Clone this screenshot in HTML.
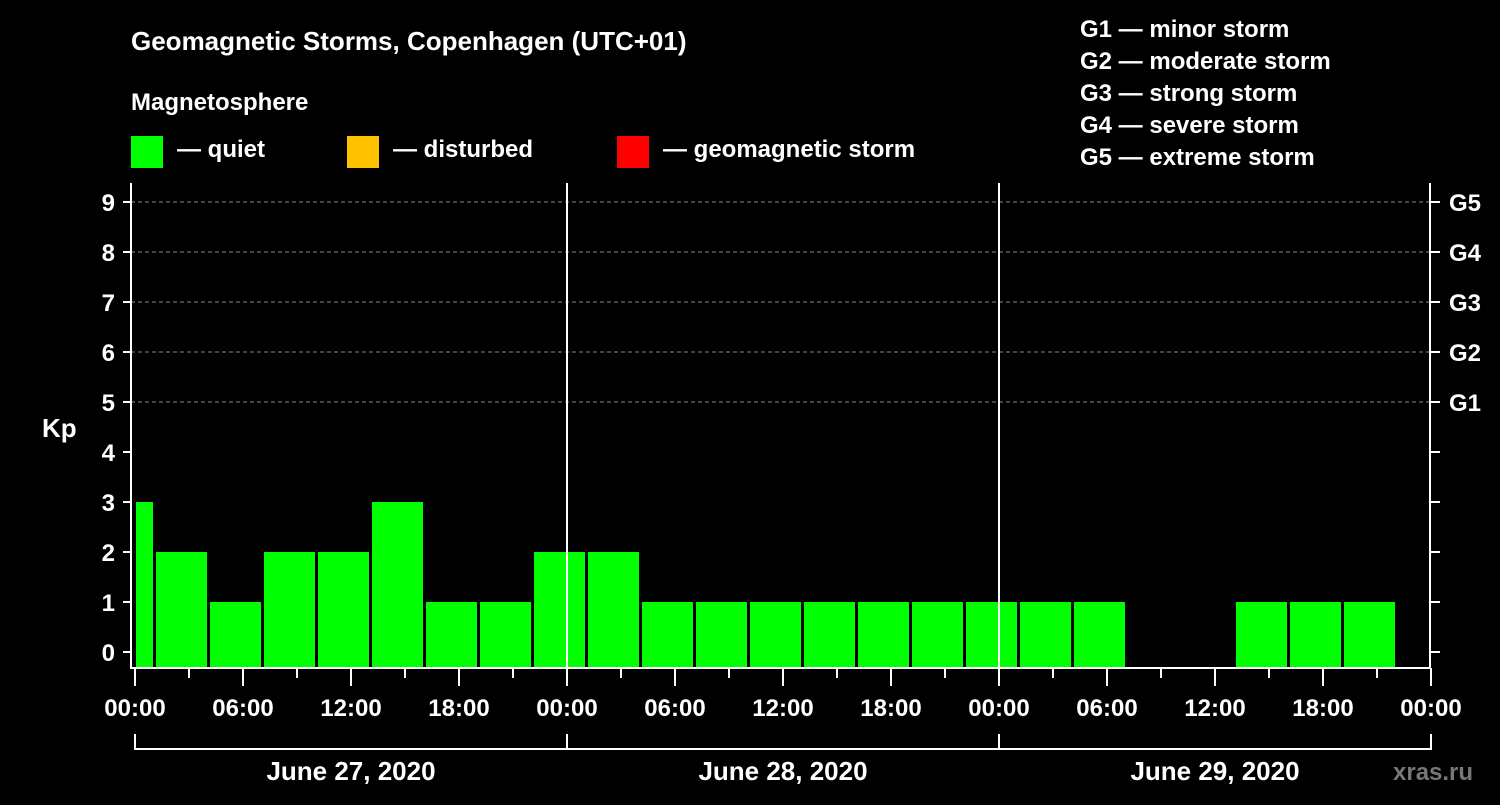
<!DOCTYPE html>
<html><head><meta charset="utf-8"><style>
html,body{margin:0;padding:0;background:#000;}
svg text{font-family:"Liberation Sans",Arial,sans-serif;font-weight:bold;fill:#fff;}
</style></head><body>
<svg id="chart" width="1500" height="800" viewBox="0 0 1500 800" xmlns="http://www.w3.org/2000/svg">
<rect width="1500" height="800" fill="#000"/>
<text x="131" y="50" font-size="26">Geomagnetic Storms, Copenhagen (UTC+01)</text>
<text x="131" y="110" font-size="24">Magnetosphere</text>
<g><rect x="131" y="136" width="32" height="32" fill="#00ff00"/><text x="177" y="157" font-size="24">— quiet</text></g>
<g><rect x="347" y="136" width="32" height="32" fill="#ffc000"/><text x="393" y="157" font-size="24">— disturbed</text></g>
<g><rect x="617" y="136" width="32" height="32" fill="#ff0000"/><text x="663" y="157" font-size="24">— geomagnetic storm</text></g>
<g font-size="24">
<text x="1080" y="37">G1 — minor storm</text>
<text x="1080" y="69">G2 — moderate storm</text>
<text x="1080" y="101">G3 — strong storm</text>
<text x="1080" y="133">G4 — severe storm</text>
<text x="1080" y="165">G5 — extreme storm</text>
</g>
<text x="42" y="437" font-size="26">Kp</text>
<text x="1393" y="780" font-size="24" fill="#777" style="fill:#777">xras.ru</text>
<g id="plot"></g>
</svg>
<script>
const kpValues=[3,2,1,2,2,3,1,1,2,2,1,1,1,1,1,1,1,1,1,null,null,1,1,1];
const yTicks=[0,1,2,3,4,5,6,7,8,9];
const gLabels=["G1","G2","G3","G4","G5"];
const xTickLabels=["00:00","06:00","12:00","18:00","00:00","06:00","12:00","18:00","00:00","06:00","12:00","18:00","00:00"];
const dayLabels=["June 27, 2020","June 28, 2020","June 29, 2020"];
const NS="http://www.w3.org/2000/svg";
const X0=135,PXH=18,LEFT=131,RIGHT=1430,TOP=183,BOT=668;
const x=h=>X0+h*PXH;
const y=v=>652-v*50;
const g=document.getElementById('plot');
function mk(t,a){const e=document.createElementNS(NS,t);for(const k in a)e.setAttribute(k,a[k]);g.appendChild(e);return e;}
// grid
for(let v=5;v<=9;v++){const l=mk('line',{x1:LEFT,x2:RIGHT,y1:y(v),y2:y(v),stroke:'#888','stroke-dasharray':'4,3','stroke-width':1});

}
// bars
kpValues.forEach((v,i)=>{if(v===null)return;
const s=x(-2+3*i)+3,e=x(1+3*i);const xs=Math.max(s,X0+1);
const r=mk('rect',{x:xs,y:y(v),width:e-xs,height:BOT-y(v),fill:'#00ff00'});

});
// day separators
[1,2].forEach(d=>{const l=mk('line',{x1:x(24*d),x2:x(24*d),y1:TOP,y2:BOT,stroke:'#fff','stroke-width':2});

});
// frame
const f=mk('path',{d:`M${LEFT},${TOP}V${BOT}H${RIGHT}V${TOP}`,fill:'none',stroke:'#fff','stroke-width':2});


// y ticks
yTicks.forEach(v=>{mk('line',{x1:123,x2:LEFT,y1:y(v),y2:y(v),stroke:'#fff','stroke-width':2});
mk('line',{x1:RIGHT,x2:1440,y1:y(v),y2:y(v),stroke:'#fff','stroke-width':2});
const t=mk('text',{x:115,y:y(v)+9,'font-size':24,'text-anchor':'end'});t.textContent=v;

});
gLabels.forEach((s,i)=>{const t=mk('text',{x:1449,y:y(5+i)+9,'font-size':24});t.textContent=s;

});
// x ticks
for(let h=0;h<=72;h+=3){const maj=h%6===0;mk('line',{x1:x(h),x2:x(h),y1:BOT,y2:maj?686:678,stroke:'#fff','stroke-width':2});}
xTickLabels.forEach((s,i)=>{const t=mk('text',{x:x(6*i),y:716,'font-size':24,'text-anchor':'middle'});t.textContent=s;

});
// day brackets
dayLabels.forEach((s,i)=>{const a=x(24*i),b=x(24*i+24);
mk('path',{d:`M${a},734V749H${b}V734`,fill:'none',stroke:'#fff','stroke-width':2});
const t=mk('text',{x:(a+b)/2,y:780,'font-size':26,'text-anchor':'middle'});t.textContent=s;

});
</script>
</body></html>
